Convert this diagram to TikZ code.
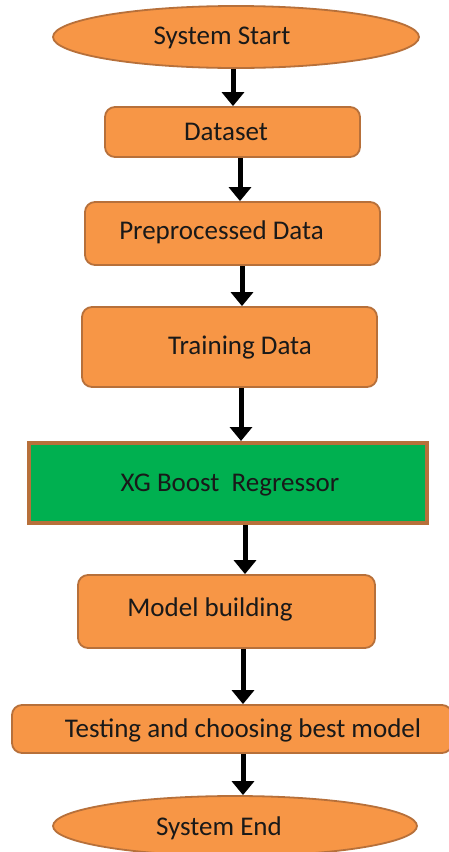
\documentclass[tikz,border=0pt]{standalone}
\usepackage{fontspec}
\setmainfont{Carlito}
\usetikzlibrary{shapes.geometric,arrows.meta}
\definecolor{org}{HTML}{F79646}
\definecolor{orgb}{HTML}{B7703A}
\definecolor{grn}{HTML}{00B050}
\begin{document}
\begin{tikzpicture}[x=1pt,y=-1pt,
  box/.style={draw=orgb, line width=1.8pt, fill=org, rounded corners=10pt, inner sep=0pt},
  oval/.style={ellipse, draw=orgb, line width=1.8pt, fill=org, inner sep=0pt},
  xgbox/.style={draw=orgb, line width=4pt, fill=grn, inner sep=0pt},
  arr/.style={-{Triangle[width=22pt,length=14pt]}, line width=5pt, black},
  txt/.style={font=\fontsize{27}{32}\selectfont, text=black!90}]
\useasboundingbox (0,0) rectangle (448,852);
\fill[white] (0,0) rectangle (448,852);

\node[oval, minimum width=366pt, minimum height=62pt] (start) at (236,37) {};
\node[txt] (startt) at (222,38) {System Start};

\node[box, minimum width=255pt, minimum height=50pt] (data) at (232.5,132) {};
\node[txt] (datat) at (226,132) {Dataset};

\node[box, minimum width=295pt, minimum height=63pt] (pre) at (232.5,233.5) {};
\node[txt] (pret) at (221.5,232) {Preprocessed Data};

\node[box, minimum width=295pt, minimum height=80pt] (train) at (229.5,347) {};
\node[txt] (traint) at (240,348) {Training Data};

\node[xgbox, minimum width=398pt, minimum height=80pt] (xg) at (227.5,483) {};
\node[txt] (xgt) at (230,485) {XG Boost~ Regressor};

\node[box, minimum width=297pt, minimum height=73pt] (model) at (226.5,611.5) {};
\node[txt] (modelt) at (210,609) {Model building};

\node[box, minimum width=440pt, minimum height=48pt] (test) at (232,729) {};
\node[txt] (testt) at (243,730) {Testing and choosing best model};

\node[oval, minimum width=364pt, minimum height=60pt] (end) at (235,826) {};
\node[txt] (endt) at (219,828) {System End};

\draw[arr] ([xshift=-3pt]start.south) -- ([xshift=0.5pt]data.north);
\draw[arr] ([xshift=7.5pt]data.south) -- ([xshift=7.5pt]pre.north);
\draw[arr] ([xshift=9.5pt]pre.south) -- ([xshift=12.5pt]train.north);
\draw[arr] ([xshift=11.5pt]train.south) -- ([xshift=13.5pt]xg.north);
\draw[arr] ([xshift=17.5pt]xg.south) -- ([xshift=18.5pt]model.north);
\draw[arr] ([xshift=16.5pt]model.south) -- ([xshift=11pt]test.north);
\draw[arr] ([xshift=11pt]test.south) -- ([xshift=8pt]end.north);
\end{tikzpicture}
\end{document}
